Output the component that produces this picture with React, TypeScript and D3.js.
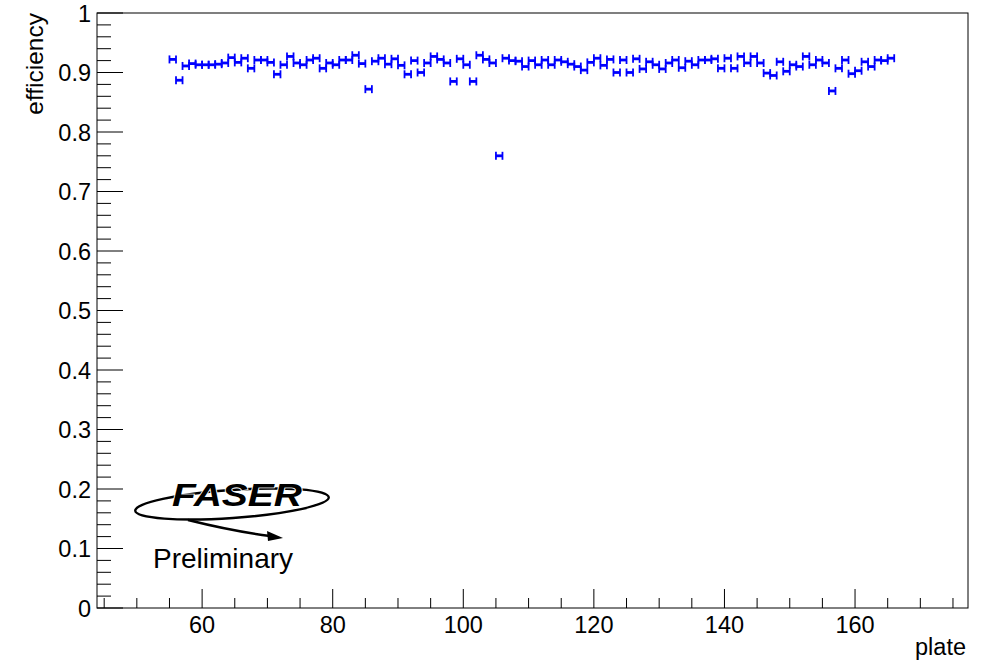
import { useEffect, useRef } from 'react'
import * as d3 from 'd3'

// plate number (bin low edge), efficiency
const plates = d3.range(55, 166)
const efficiency = [
  0.922, 0.887, 0.911, 0.915, 0.913, 0.913, 0.913, 0.914, 0.916, 0.925,
  0.917, 0.924, 0.907, 0.921, 0.921, 0.917, 0.897, 0.913, 0.927, 0.916,
  0.913, 0.921, 0.924, 0.907, 0.916, 0.913, 0.921, 0.921, 0.929, 0.915,
  0.872, 0.919, 0.924, 0.914, 0.923, 0.912, 0.897, 0.920, 0.900, 0.916,
  0.927, 0.922, 0.916, 0.885, 0.923, 0.913, 0.885, 0.929, 0.922, 0.916,
  0.760, 0.924, 0.920, 0.919, 0.910, 0.920, 0.913, 0.921, 0.913, 0.921,
  0.918, 0.914, 0.910, 0.904, 0.917, 0.924, 0.912, 0.922, 0.900, 0.921,
  0.900, 0.923, 0.906, 0.918, 0.913, 0.906, 0.916, 0.921, 0.908, 0.919,
  0.913, 0.921, 0.921, 0.923, 0.907, 0.924, 0.907, 0.927, 0.916, 0.927,
  0.916, 0.899, 0.895, 0.918, 0.902, 0.913, 0.910, 0.927, 0.913, 0.921,
  0.916, 0.869, 0.907, 0.921, 0.898, 0.903, 0.918, 0.910, 0.921, 0.920,
  0.924,
]
const xTicks = [60, 80, 100, 120, 140, 160]
const yTicks = [0, 0.1, 0.2, 0.3, 0.4, 0.5, 0.6, 0.7, 0.8, 0.9, 1]

const W = 983
const H = 662
const FONT = '"Liberation Sans", Arial, Helvetica, sans-serif'

export default function App() {
  const svgRef = useRef<SVGSVGElement>(null)

  useEffect(() => {
    if (!svgRef.current) return
    const frame = { left: 97, right: 968, top: 13, bottom: 608 }

    const svg = d3.select(svgRef.current)
    svg.selectAll('*').remove()
    svg.attr('width', W).attr('height', H)
    svg.append('rect').attr('width', W).attr('height', H).attr('fill', '#fff')

    const x = d3.scaleLinear().domain([43.9, 177.3]).range([frame.left, frame.right])
    const y = d3.scaleLinear().domain([0, 1]).range([frame.bottom, frame.top])

    // frame
    svg.append('rect')
      .attr('x', frame.left).attr('y', frame.top)
      .attr('width', frame.right - frame.left).attr('height', frame.bottom - frame.top)
      .attr('fill', 'none').attr('stroke', '#000').attr('stroke-width', 1)

    // x axis: major every 20, minor every 5
    const xMinor = d3.range(45, 177, 5).filter(v => v % 20 !== 0)
    const gx = svg.append('g')
    gx.selectAll('line.major').data(xTicks).join('line')
      .attr('x1', d => x(d)).attr('x2', d => x(d))
      .attr('y1', frame.bottom).attr('y2', frame.bottom - 19)
      .attr('stroke', '#000')
    gx.selectAll('line.minor').data(xMinor).join('line')
      .attr('x1', d => x(d)).attr('x2', d => x(d))
      .attr('y1', frame.bottom).attr('y2', frame.bottom - 10)
      .attr('stroke', '#000')
    gx.selectAll('text').data(xTicks).join('text')
      .attr('x', d => x(d)).attr('y', 633)
      .attr('text-anchor', 'middle')
      .attr('font-family', FONT).attr('font-size', 23.5).attr('fill', '#000')
      .text(d => d)

    // y axis: major every 0.1, minor every 0.02
    const yMinor = d3.range(0, 50).map(i => i * 0.02).filter((_, i) => i % 5 !== 0)
    const gy = svg.append('g')
    gy.selectAll('line.major').data(yTicks).join('line')
      .attr('x1', frame.left).attr('x2', frame.left + 26)
      .attr('y1', d => y(d)).attr('y2', d => y(d))
      .attr('stroke', '#000')
    gy.selectAll('line.minor').data(yMinor).join('line')
      .attr('x1', frame.left).attr('x2', frame.left + 14)
      .attr('y1', d => y(d)).attr('y2', d => y(d))
      .attr('stroke', '#000')
    gy.selectAll('text').data(yTicks).join('text')
      .attr('x', 91).attr('y', d => y(d) + 8.5)
      .attr('text-anchor', 'end')
      .attr('font-family', FONT).attr('font-size', 23.5).attr('fill', '#000')
      .text(d => d3.format('~g')(d))

    // axis titles
    svg.append('text')
      .attr('x', 966).attr('y', 655).attr('text-anchor', 'end')
      .attr('font-family', FONT).attr('font-size', 23.5).attr('fill', '#000')
      .text('plate')
    svg.append('text')
      .attr('transform', `translate(43,${frame.top}) rotate(-90)`)
      .attr('text-anchor', 'end')
      .attr('font-family', FONT).attr('font-size', 24.5).attr('fill', '#000')
      .text('efficiency')

    // points with horizontal error bars (bin width) and end caps
    const pts = plates.map((p, i) => ({ lo: p, hi: p + 1, v: efficiency[i] }))
    const gp = svg.append('g').attr('stroke', '#0000ff')
    gp.selectAll('line.bar').data(pts).join('line')
      .attr('x1', d => x(d.lo)).attr('x2', d => x(d.hi))
      .attr('y1', d => y(d.v)).attr('y2', d => y(d.v))
      .attr('stroke-width', 2.8)
    gp.selectAll('line.capL').data(pts).join('line')
      .attr('x1', d => x(d.lo)).attr('x2', d => x(d.lo))
      .attr('y1', d => y(d.v) - 4).attr('y2', d => y(d.v) + 4)
      .attr('stroke-width', 1.8)
    gp.selectAll('line.capR').data(pts).join('line')
      .attr('x1', d => x(d.hi)).attr('x2', d => x(d.hi))
      .attr('y1', d => y(d.v) - 4).attr('y2', d => y(d.v) + 4)
      .attr('stroke-width', 1.8)

    // FASER logo
    const logo = svg.append('g')
    logo.append('ellipse')
      .attr('cx', 232).attr('cy', 504).attr('rx', 97).attr('ry', 14)
      .attr('transform', 'rotate(-4 232 504)')
      .attr('fill', 'none').attr('stroke', '#000').attr('stroke-width', 2.4)
    logo.append('text')
      .attr('x', 172).attr('y', 506)
      .attr('font-family', FONT).attr('font-size', 32)
      .attr('font-weight', 'bold').attr('font-style', 'italic')
      .attr('textLength', 130).attr('lengthAdjust', 'spacingAndGlyphs')
      .attr('fill', '#000').attr('stroke', '#fff').attr('stroke-width', 1.5)
      .attr('paint-order', 'stroke')
      .text('FASER')
    logo.append('path')
      .attr('d', 'M188,520 Q232,531 270,536')
      .attr('fill', 'none').attr('stroke', '#000').attr('stroke-width', 2.5)
    logo.append('path')
      .attr('d', 'M283,538 L267,531 L268,541 Z')
      .attr('fill', '#000')
    svg.append('text')
      .attr('x', 153).attr('y', 568)
      .attr('font-family', FONT).attr('font-size', 28).attr('fill', '#000')
      .text('Preliminary')
  }, [])

  return (
    <div style={{ position: 'absolute', left: 0, top: 0 }}>
      <svg ref={svgRef} style={{ display: 'block' }} />
    </div>
  )
}
